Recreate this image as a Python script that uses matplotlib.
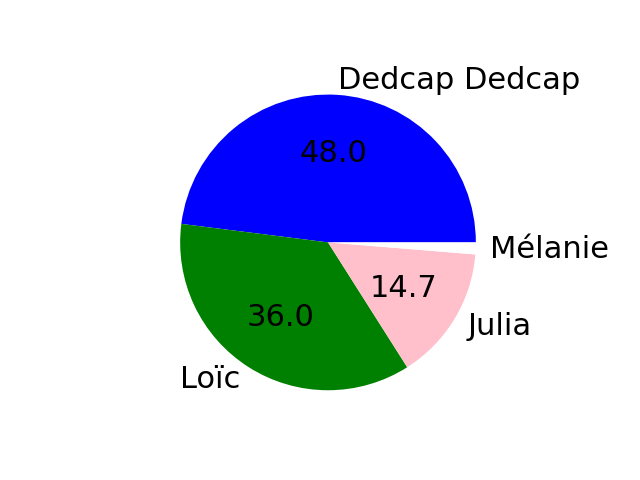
import matplotlib
matplotlib.use("Agg")
from matplotlib import pyplot as plt

labels = ['Dedcap Dedcap', 'Loïc', 'Julia', 'Mélanie']
values = [48.0, 36.0, 14.7, 1.3]
colors = ['blue', 'green', 'pink', 'white']


def pct(p):
    # hide the tiny slice's number
    return '%.1f' % p if p > 5 else ''


fig = plt.figure(figsize=(6.4, 4.8), dpi=100)
plt.pie(values, labels=labels, colors=colors, autopct=pct,
        textprops={'fontsize': 22})
plt.savefig('out.png')
